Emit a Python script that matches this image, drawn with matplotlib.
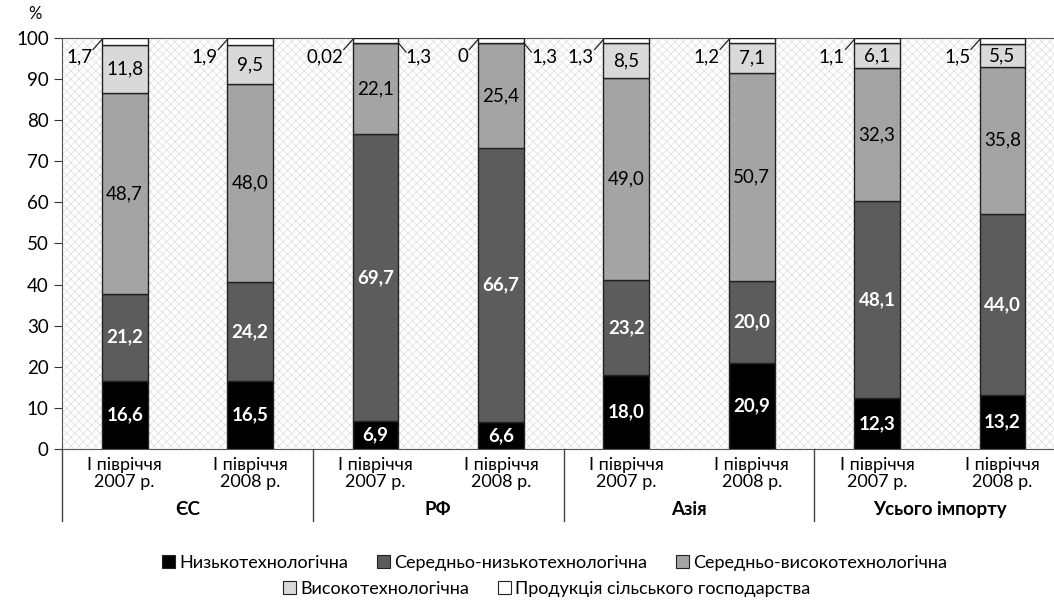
import numpy as np
import matplotlib.pyplot as plt
from matplotlib.patches import Rectangle, Patch
from matplotlib.transforms import blended_transform_factory

plt.rcParams['font.family'] = ['Lato', 'DejaVu Sans']
plt.rcParams['hatch.linewidth'] = 0.5

# Дані (% структури імпорту)
periods = ['І півріччя\n2007 р.', 'І півріччя\n2008 р.'] * 4
groups = ['ЄС', 'РФ', 'Азія', 'Усього імпорту']
low = [16.6, 16.5, 6.9, 6.6, 18.0, 20.9, 12.3, 13.2]
mid_low = [21.2, 24.2, 69.7, 66.7, 23.2, 20.0, 48.1, 44.0]
mid_high = [48.7, 48.0, 22.1, 25.4, 49.0, 50.7, 32.3, 35.8]
high = [11.8, 9.5, 0.02, 0, 8.5, 7.1, 6.1, 5.5]
agri = [1.7, 1.9, 1.3, 1.3, 1.3, 1.2, 1.1, 1.5]

series = [low, mid_low, mid_high, high, agri]
names = ['Низькотехнологічна', 'Середньо-низькотехнологічна',
         'Середньо-високотехнологічна', 'Високотехнологічна',
         'Продукція сільського господарства']
colors = ['#000000', '#5c5c5c', '#a4a4a4', '#d9d9d9', '#ffffff']

fig = plt.figure(figsize=(10.54, 6), dpi=100)
ax = fig.add_axes([62 / 1054, 1 - 449 / 600, 1 - 62 / 1054, 411 / 600])

# фон з візерунком
bg = Rectangle((0, 0), 1, 1, transform=ax.transAxes, facecolor='white',
               edgecolor='#dcdcdc', hatch='xxxx', linewidth=0, zorder=0)
ax.add_patch(bg)

x = np.arange(len(low))
w = 0.365
bottom = np.zeros(len(x))
for vals, c in zip(series, colors):
    ax.bar(x, vals, w, bottom=bottom, color=c, edgecolor='#222222',
           linewidth=1.0, zorder=3)
    bottom += np.array(vals)

fs = 13.5
# підписи всередині сегментів
bottom = np.zeros(len(x))
for k, vals in enumerate(series[:4]):
    for i, v in enumerate(vals):
        if v >= 3:
            txt = f'{v:.1f}'.replace('.', ',')
            if k < 2:
                ax.text(x[i], bottom[i] + v / 2, txt, ha='center', va='center',
                        color='white', fontweight='bold', fontsize=fs, zorder=4)
            else:
                ax.text(x[i], bottom[i] + v / 2, txt, ha='center', va='center',
                        color='black', fontsize=fs, zorder=4)
    bottom += np.array(vals)

# малі значення з виносками
def fmt(v):
    if v == 0:
        return '0'
    if v < 0.1:
        return f'{v:.2f}'.replace('.', ',')
    return f'{v:.1f}'.replace('.', ',')

for i in range(len(x)):
    left_val = high[i] if i in (2, 3) else agri[i]
    xl = x[i] - w / 2
    ax.plot([xl - 0.07, xl], [97.2, 99.6], color='#222222', lw=0.9, zorder=4)
    ax.text(xl - 0.075, 95.5, fmt(left_val), ha='right', va='center',
            fontsize=fs, zorder=4)
    if i in (2, 3):
        xr = x[i] + w / 2
        ax.plot([xr, xr + 0.06], [98.8, 96.6], color='#222222', lw=0.9, zorder=4)
        ax.text(xr + 0.06, 95.3, fmt(agri[i]), ha='left', va='center',
                fontsize=fs, zorder=4)

ax.set_xlim(-0.5, -0.5 + 992 / 125.4)
ax.set_ylim(0, 100)
ax.set_yticks(np.arange(0, 101, 10))
ax.tick_params(axis='y', labelsize=fs, length=6, direction='out', colors='#333333')
ax.tick_params(axis='y', labelcolor='black')
ax.set_xticks(x)
ax.set_xticklabels(periods, fontsize=fs - 0.5, linespacing=1.05)
ax.tick_params(axis='x', length=0, pad=6)
ax.spines['right'].set_visible(False)
for s in ['top', 'left', 'bottom']:
    ax.spines[s].set_color('#555555')

ax.text(-0.027, 1.04, '%', transform=ax.transAxes, ha='center', va='bottom',
        fontsize=fs - 1.5)

# розділювачі груп і назви груп
tr = blended_transform_factory(ax.transData, ax.transAxes)
for b in [-0.5, 1.5, 3.5, 5.5]:
    ax.plot([b, b], [0, -0.175], transform=tr, color='#444444', lw=1,
            clip_on=False)
for g, name in enumerate(groups):
    ax.text(2 * g + 0.5, -0.148, name, transform=tr, ha='center', va='center',
            fontsize=fs, fontweight='bold')

# легенда
def handles(idx):
    return [Patch(facecolor=colors[j], edgecolor='#222222', linewidth=0.8,
                  label=names[j]) for j in idx]

fig.legend(handles=handles([0, 1, 2]), loc='center',
           bbox_to_anchor=(555 / 1054, 1 - 563 / 600), ncol=3,
           frameon=False, fontsize=fs - 0.5, handlelength=0.7,
           handleheight=0.7, handletextpad=0.25, columnspacing=1.6)
fig.legend(handles=handles([3, 4]), loc='center',
           bbox_to_anchor=(547 / 1054, 1 - 589 / 600), ncol=2,
           frameon=False, fontsize=fs - 0.5, handlelength=0.7,
           handleheight=0.7, handletextpad=0.25, columnspacing=1.6)

fig.savefig('out.png', dpi=100)
